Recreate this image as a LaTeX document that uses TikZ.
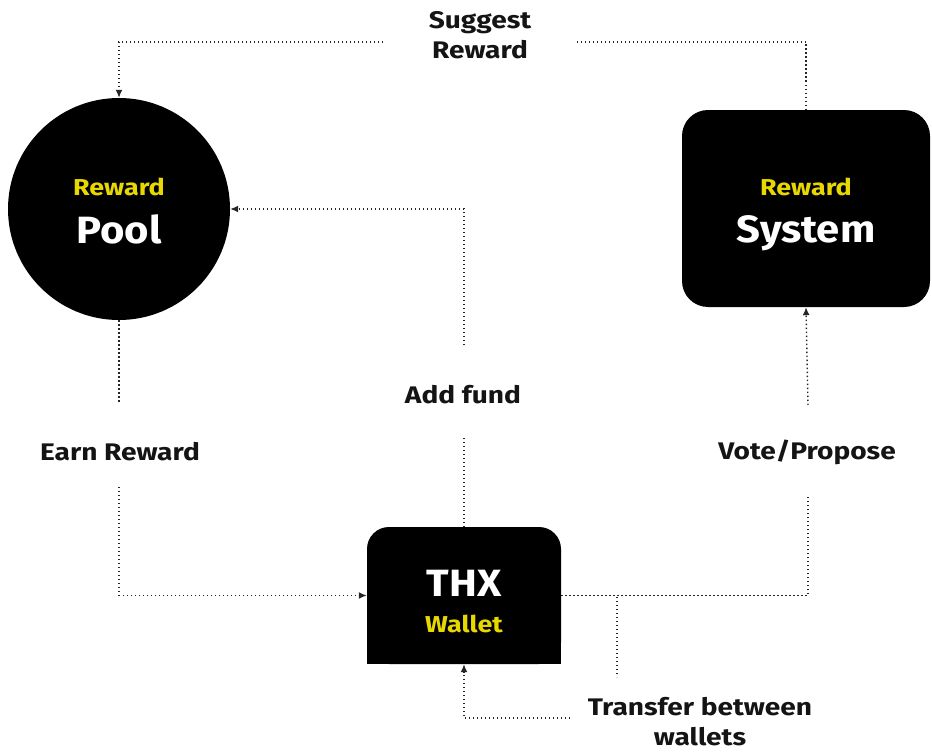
\documentclass[tikz,border=0pt]{standalone}
\usepackage{fontspec}
\setmainfont{Fira Sans}[BoldFont={Fira Sans Bold}]
\newfontfamily\lblfont{Fira Sans Bold}[FakeStretch=1.17]
\newfontfamily\bigfont{Fira Sans Bold}[FakeStretch=1.1]
\usetikzlibrary{arrows.meta}
\definecolor{ylw}{RGB}{232,216,0}
\definecolor{ink}{RGB}{20,20,20}
\begin{document}
\begin{tikzpicture}[x=1pt,y=-1pt,
  blk/.style={fill=black,inner sep=0pt},
  lbl/.style={font=\lblfont\fontsize{24}{30}\selectfont,text=ink,align=center,inner sep=0pt},
  small/.style={font=\lblfont\fontsize{23}{26}\selectfont,text=ylw},
  big/.style={font=\bigfont\fontsize{38}{40}\selectfont,text=white},
  flow/.style={draw=black!85,line width=1.4pt,dash pattern=on 1.3pt off 2.7pt},
  tip/.style={-{Latex[length=8pt,width=7pt]}}]
\useasboundingbox (0,0) rectangle (932,752);
% nodes
\node[blk,circle,minimum size=222pt] (pool) at (119,209) {};
\node[blk,rectangle,rounded corners=26pt,minimum width=248pt,minimum height=197pt] (system) at (806,208.5) {};
\node[blk,rectangle,rounded corners=22pt,minimum width=194pt,minimum height=137pt] (wallet) at (464,595.5) {};
\fill[black] (wallet.west) rectangle (wallet.south east);
% texts inside
\node[small] (poolA) at (119,187) {Reward};
\node[big] (poolB) at (119,229) {Pool};
\node[small] (sysA) at (806,187) {Reward};
\node[big] (sysB) at (806,233) {System};
\node[big] (walA) at (464,583) {THX};
\node[small] (walB) at (464,624) {Wallet};
% labels
\node[lbl] (suggest) at (480,35) {Suggest\\Reward};
\node[lbl] (addfund) at (463,395) {Add fund};
\node[lbl] (earn) at (120,452) {Earn Reward};
\node[lbl] (vote) at (807,452) {Vote/Propose};
\node[lbl] (transfer) at (700,722) {Transfer between\\wallets};
% free ends
\coordinate (s1) at (383,42);
\coordinate (s2) at (577,42);
\coordinate (a1) at (464,345);
\coordinate (a2) at (464,438);
\coordinate (e1) at (119,402);
\coordinate (e2) at (119,487);
\coordinate (v1) at (808,495);
\coordinate (v2) at (808,405);
\coordinate (t0) at (617,597);
\coordinate (t1) at (617,677);
\coordinate (t2) at (570,718);
% connectors
\draw[flow,tip] (s1) -| (pool.north);
\draw[flow] (system.north) |- (s2);
\draw[flow,tip] (a1) |- (pool.east);
\draw[flow] (wallet.north) -- (a2);
\draw[flow] (pool.south) -- (e1);
\draw[flow,tip] (e2) |- (wallet.west);
\draw[flow] (wallet.east) -| (v1);
\draw[flow,tip] (v2) -- (system.south);
\draw[flow] (t0) -- (t1);
\draw[flow,tip] (t2) -| (wallet.south);
\end{tikzpicture}
\end{document}
